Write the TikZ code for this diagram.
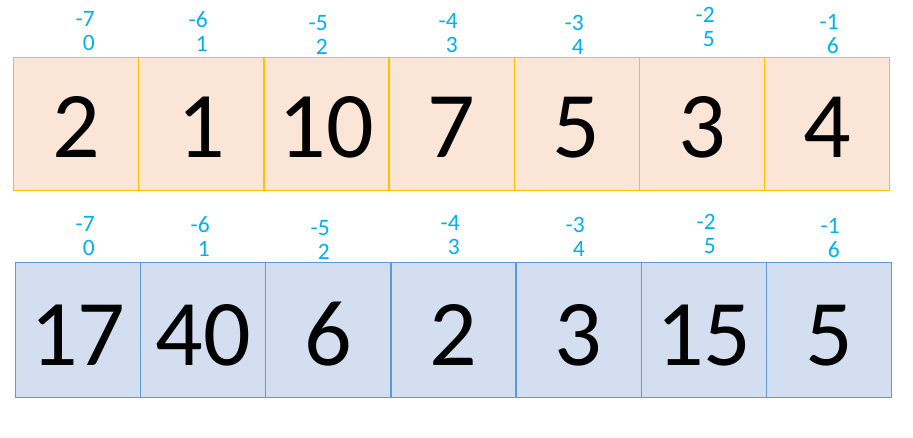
\documentclass[tikz,border=0pt]{standalone}
\usepackage{fontspec}
\setmainfont{Carlito}
\definecolor{lblcol}{HTML}{00B0F0}
\definecolor{topfill}{HTML}{FBE5D6}
\definecolor{topline}{HTML}{FFC000}
\definecolor{botfill}{HTML}{D3DEF0}
\definecolor{botline}{HTML}{5B9BD5}
\begin{document}
\begin{tikzpicture}[x=1pt,y=-1pt,
  cellbase/.style={line width=1.3pt, minimum width=125.2pt, minimum height=133pt,
    inner sep=0pt, anchor=north west, font=\fontsize{94}{100}\selectfont,
    text height=67pt, text depth=0pt},
  topcell/.style={cellbase, draw=topline, fill=topfill},
  botcell/.style={cellbase, draw=botline, fill=botfill, minimum height=135pt,
    text height=71pt},
  idxlbl/.style={text=lblcol, align=right, inner sep=0pt, anchor=north east,
    font=\fontsize{23.5}{24}\selectfont}
]
\useasboundingbox (0,0) rectangle (913,437);
% top row
\foreach \v [count=\i from 0] in {2,1,10,7,5,3,4}{
  \node[topcell] (t\i) at ({13+125.14*\i},57) {\v};
}
% bottom row
\foreach \v [count=\i from 0] in {17,40,6,2,3,15,5}{
  \node[botcell] (b\i) at ({14.7+125.19*\i},262) {\v};
}
% top labels
\node[idxlbl] (lt0) at (95,11.7) {-7\\0};
\node[idxlbl] (lt1) at (208,11.7) {-6\\1};
\node[idxlbl] (lt2) at (328,15) {-5\\2};
\node[idxlbl] (lt3) at (458,13.3) {-4\\3};
\node[idxlbl] (lt4) at (584,15) {-3\\4};
\node[idxlbl] (lt5) at (715,7.3) {-2\\5};
\node[idxlbl] (lt6) at (839,14) {-1\\6};
% bottom labels
\node[idxlbl] (lb0) at (95,216.7) {-7\\0};
\node[idxlbl] (lb1) at (210,216.7) {-6\\1};
\node[idxlbl] (lb2) at (330,220.7) {-5\\2};
\node[idxlbl] (lb3) at (460,215) {-4\\3};
\node[idxlbl] (lb4) at (585,216.7) {-3\\4};
\node[idxlbl] (lb5) at (716,214) {-2\\5};
\node[idxlbl] (lb6) at (840,218.3) {-1\\6};
\end{tikzpicture}
\end{document}
